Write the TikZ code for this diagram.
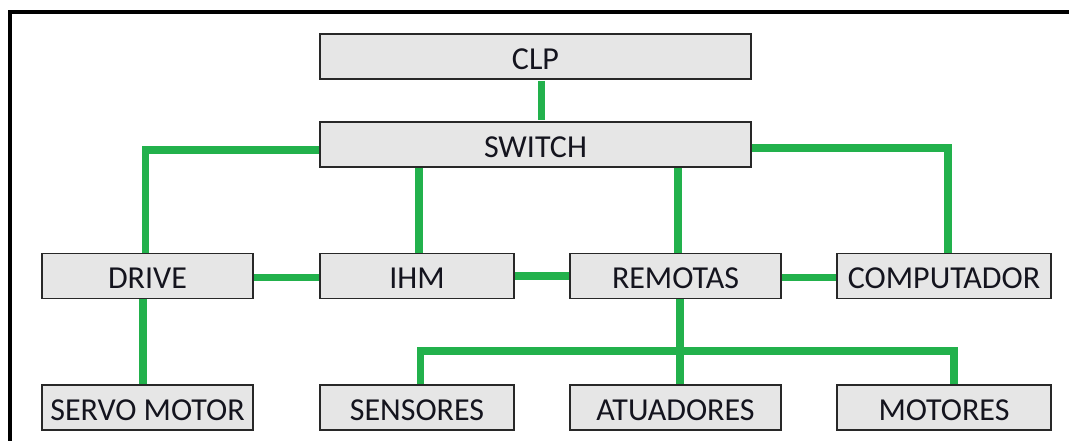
\documentclass[tikz,border=0pt]{standalone}
\usepackage{fontspec}
\setmainfont{Carlito}
\usetikzlibrary{calc}
\definecolor{linkgreen}{RGB}{34,177,76}
\definecolor{boxfill}{RGB}{230,230,230}
\definecolor{boxedge}{RGB}{40,40,40}
\definecolor{labeltext}{RGB}{20,20,30}
\tikzset{
  unit/.style={draw=boxedge, line width=1.6pt, fill=boxfill, inner sep=0pt,
    minimum height=45pt, text height=25.6pt, text depth=0pt,
    text=labeltext, font=\fontsize{32}{36}\selectfont},
  link/.style={draw=linkgreen, line width=7.5pt}
}
\begin{document}
\begin{tikzpicture}[x=1pt,y=-1pt]
\useasboundingbox (0,0) rectangle (1069,441);
% outer frame (only its top and left edges fall inside the page)
\draw[line width=4pt] (10,470) -- (10,12) -- (1100,12);

% blocks
\node[unit, minimum width=431pt] (clp)    at (535.5,56.5)  {CLP};
\node[unit, minimum width=431pt] (switch) at (535.5,144.5) {SWITCH};
\node[unit, minimum width=211pt] (drive)  at (147.5,276)   {DRIVE};
\node[unit, minimum width=194pt] (ihm)    at (417,276)     {IHM};
\node[unit, minimum width=211pt] (rem)    at (675.5,276)   {REMOTAS};
\node[unit, minimum width=214pt] (pc)     at (944,276)     {COMPUTADOR};
\node[unit, minimum width=211pt] (servo)  at (147.5,407.5) {SERVO MOTOR};
\node[unit, minimum width=194pt] (sens)   at (417,407.5)   {SENSORES};
\node[unit, minimum width=211pt] (atu)    at (675.5,407.5) {ATUADORES};
\node[unit, minimum width=214pt] (mot)    at (944,407.5)   {MOTORES};
\coordinate (bus) at (680,351);

% network links
\draw[link] ($(clp.south)+(6,1)$) -- ($(switch.north)+(6,-1)$);
\draw[link] ($(switch.west)+(0,5.5)$) -| ($(drive.north)+(-2,0)$);
\draw[link] ($(switch.south)+(-116.5,0)$) -- ($(ihm.north)+(2,0)$);
\draw[link] ($(switch.south)+(142.5,0)$) -- ($(rem.north)+(2.5,0)$);
\draw[link] ($(switch.east)+(0,3.5)$) -| ($(pc.north)+(4,0)$);
\draw[link] ($(drive.east)+(0,1.5)$) -- ($(ihm.west)+(0,1.5)$);
\draw[link] ($(ihm.east)+(0,0)$) -- ($(rem.west)+(0,0)$);
\draw[link] ($(rem.east)+(0,1.5)$) -- ($(pc.west)+(0,1.5)$);
\draw[link] ($(drive.south)+(-4.5,0)$) -- ($(servo.north)+(-4.5,0)$);
\draw[link] ($(rem.south)+(4.5,0)$) -- ($(atu.north)+(4.5,0)$);
\draw[link] ($(sens.north)+(3.5,0)$) |- (bus) -| ($(mot.north)+(10,0)$);
\end{tikzpicture}
\end{document}
